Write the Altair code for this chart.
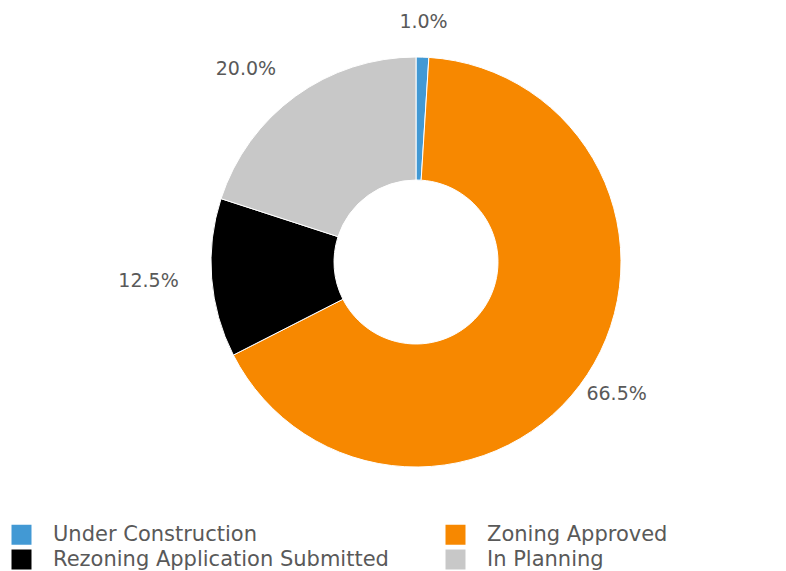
import altair as alt
import pandas as pd

categories = ["Under Construction", "Zoning Approved", "Rezoning Application Submitted", "In Planning"]
values = [1.0, 66.5, 12.5, 20.0]
labels = ["1.0%", "66.5%", "12.5%", "20.0%"]
colors = ["#4299D4", "#F78800", "#000000", "#C8C8C8"]

df = pd.DataFrame({"category": categories, "value": values, "label": labels,
                   "order": list(range(len(categories)))})
# mid-angle fraction of each slice (derived from the values) and which side of the ring it sits on
total = df["value"].sum()
df["mid"] = (df["value"].cumsum() - df["value"] / 2) / total
df["side"] = ["left" if m > 0.5 else "right" for m in df["mid"]]

FONT = "DejaVu Sans"
cx, cy = 408, 254

arcs = alt.Chart(df).mark_arc(outerRadius=205, innerRadius=82, stroke="white", strokeWidth=1).encode(
    theta=alt.Theta("value:Q", stack=True),
    order=alt.Order("order:Q"),
    x=alt.value(cx), y=alt.value(cy),
    color=alt.Color(
        "category:N",
        scale=alt.Scale(domain=categories, range=colors),
        sort=categories,
        legend=alt.Legend(
            title=None, orient="none", legendX=3, legendY=516, columns=2,
            direction="horizontal",
            symbolType="square", symbolSize=400, symbolStrokeWidth=0,
            labelFont=FONT, labelFontSize=21, labelColor="#595959",
            labelOffset=21, rowPadding=3, columnPadding=56, labelLimit=450,
        ),
    ),
)

theta_mid = alt.Theta("mid:Q", scale=alt.Scale(domain=[0, 1], range=[0, 6.283185307]), stack=False)

text_right = alt.Chart(df).transform_filter(alt.datum.side == "right").mark_text(
    radius=240, font=FONT, fontSize=19, color="#595959", align="center"
).encode(theta=theta_mid, x=alt.value(cx), y=alt.value(cy), text="label:N")

text_left = alt.Chart(df).transform_filter(alt.datum.side == "left").mark_text(
    radius=238, font=FONT, fontSize=19, color="#595959", align="right"
).encode(theta=theta_mid, x=alt.value(cx), y=alt.value(cy), text="label:N")

labels_layer = alt.layer(text_right, text_left)

chart = alt.layer(arcs, labels_layer).resolve_scale(theta="independent").properties(
    width=770, height=563,
    autosize=alt.AutoSizeParams(type="none"),
    padding=0,
).configure_view(stroke=None)

chart.save("out.html", embed_options={"renderer": "svg", "actions": False})
